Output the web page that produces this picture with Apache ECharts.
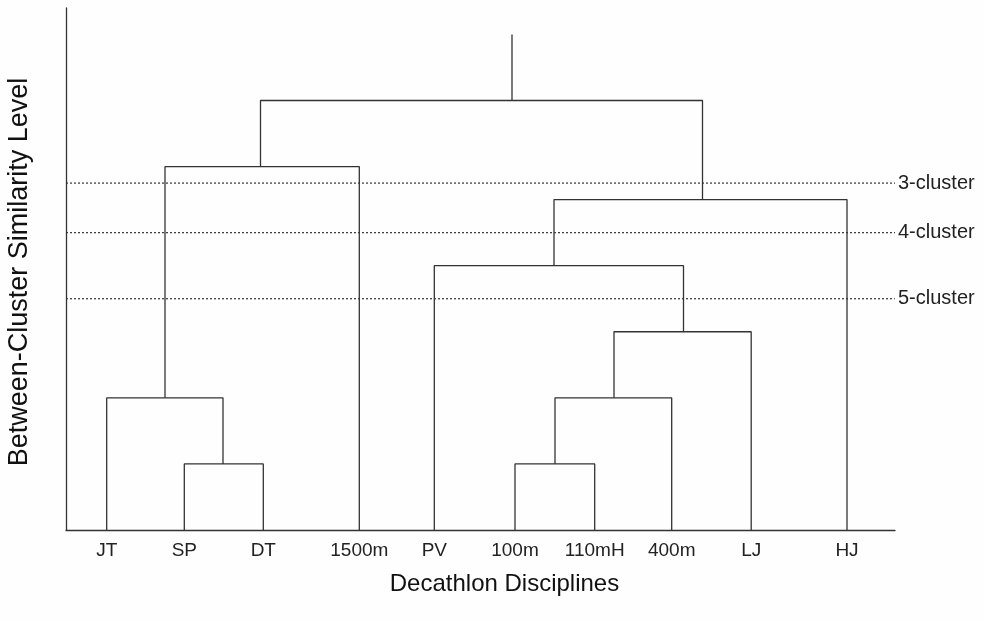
<!DOCTYPE html>
<html>
<head>
<meta charset="utf-8">
<script src="https://cdn.jsdelivr.net/npm/echarts@6/dist/echarts.min.js"></script>
<style>html,body{margin:0;padding:0;background:#fefefe;}#c{width:983px;height:620px;}</style>
</head>
<body>
<div id="c"></div>
<script>
// Leaves (decathlon disciplines) and their positions along the horizontal axis
const leaves = ['JT', 'SP', 'DT', '1500m', 'PV', '100m', '110mH', '400m', 'LJ', 'HJ'];
const leafPos = [40.7, 118.3, 197.3, 293.3, 368.3, 449, 528.7, 605.7, 685.2, 781];
// Merges: node ids 0-9 are leaves, merge i creates node 10+i
const mergeLeft = [1, 0, 11, 5, 13, 14, 4, 16, 12];
const mergeRight = [2, 10, 3, 6, 7, 8, 15, 9, 17];
const mergeHeight = [1, 2, 5.5, 1, 2, 3, 4, 5, 6.5];
const mergeStem = [157, 99, 194.5, 489, 548, 617.5, 488, 636.5, 446];
const rootTop = 7.5;
// Cluster cut levels
const cutLevels = [5.25, 4.5, 3.5];
const cutLabels = ['3-cluster', '4-cluster', '5-cluster'];

const xMax = 829, yMax = 7.9;
const lineColor = '#333';
const font = 'Liberation Sans, Arial, sans-serif';

function nodeX(id) { return id < leaves.length ? leafPos[id] : mergeStem[id - leaves.length]; }
function nodeH(id) { return id < leaves.length ? 0 : mergeHeight[id - leaves.length]; }

const series = [];
for (let i = 0; i < mergeLeft.length; i++) {
  const l = mergeLeft[i], r = mergeRight[i], h = mergeHeight[i];
  series.push({
    type: 'line', symbol: 'none', animation: false, silent: true,
    lineStyle: { color: lineColor, width: 1.3 },
    data: [[nodeX(l), nodeH(l)], [nodeX(l), h], [nodeX(r), h], [nodeX(r), nodeH(r)]]
  });
}
const rootId = leaves.length + mergeLeft.length - 1;
series.push({
  type: 'line', symbol: 'none', animation: false, silent: true,
  lineStyle: { color: lineColor, width: 1.3 },
  data: [[nodeX(rootId), nodeH(rootId)], [nodeX(rootId), rootTop]]
});
cutLevels.forEach((lv, i) => {
  series.push({
    type: 'line', symbol: 'none', animation: false, silent: true, z: 1,
    lineStyle: { color: '#333', width: 1.2, type: [2, 2] },
    data: [[0, lv], [xMax, lv]],
    endLabel: {
      show: true, formatter: cutLabels[i], distance: 3,
      color: '#222', fontFamily: font, fontSize: 20
    }
  });
});

const chart = echarts.init(document.getElementById('c'), null, { renderer: 'canvas' });
chart.setOption({
  backgroundColor: '#fefefe',
  animation: false,
  grid: { left: 66, right: 88, top: 8, bottom: 90, containLabel: false, outerBoundsMode: 'none' },
  xAxis: {
    type: 'value', min: 0, max: xMax,
    name: 'Decathlon Disciplines', nameLocation: 'middle', nameGap: 42,
    nameTextStyle: { color: '#111', fontSize: 24, fontFamily: font, padding: [0, 0, 0, 48] },
    axisLine: { show: true, lineStyle: { color: lineColor, width: 1.3 } },
    axisTick: { show: false },
    splitLine: { show: false },
    axisLabel: {
      customValues: leafPos, margin: 11,
      formatter: v => { const k = leafPos.findIndex(p => Math.abs(p - v) < 0.01); return k >= 0 ? leaves[k] : ''; },
      color: '#222', fontSize: 19, fontFamily: font
    }
  },
  yAxis: {
    type: 'value', min: 0, max: yMax,
    name: 'Between-Cluster Similarity Level', nameLocation: 'middle', nameGap: 33,
    nameTextStyle: { color: '#111', fontSize: 27, fontFamily: font, padding: [0, 6, 0, 0] },
    axisLine: { show: true, onZero: false, lineStyle: { color: lineColor, width: 1.3 } },
    axisTick: { show: false },
    axisLabel: { show: false },
    splitLine: { show: false }
  },
  series: series
});
</script>
</body>
</html>
